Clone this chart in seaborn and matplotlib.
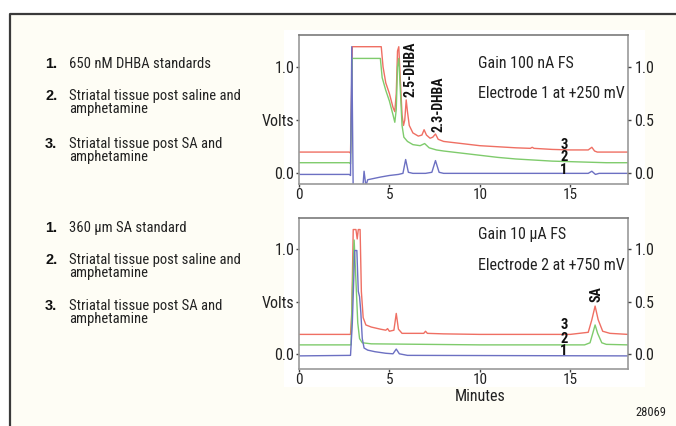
import matplotlib
matplotlib.use("Agg")
import matplotlib.pyplot as plt
import seaborn as sns
import numpy as np
from matplotlib.patches import Rectangle
from matplotlib.lines import Line2D
from matplotlib import font_manager

# ---------------- data ----------------
# Top panel (Electrode 1, +250 mV)
top_t3 = [0, 2.78, 2.85, 2.95, 4.55, 4.65, 4.8, 5.0, 5.2, 5.3, 5.38, 5.45, 5.52, 5.6, 5.7, 5.78, 5.85, 5.93, 6.0,
          6.1, 6.3, 6.6, 6.8, 6.92, 7.05, 7.25, 7.4, 7.55, 7.7, 8.0, 8.5, 9, 10, 11, 12, 12.8, 12.9, 13.0, 14, 15,
          16.0, 16.2, 16.35, 16.5, 17, 18.2]
top_v3 = [0.2, 0.2, 0.19, 1.19, 1.19, 1.0, 0.85, 0.75, 0.62, 0.58, 0.75, 1.15, 1.19, 0.9, 0.55, 0.45, 0.5, 0.69, 0.58,
          0.45, 0.38, 0.35, 0.36, 0.41, 0.36, 0.33, 0.34, 0.37, 0.32, 0.3, 0.29, 0.28, 0.26, 0.25, 0.24, 0.235, 0.245,
          0.235, 0.225, 0.22, 0.22, 0.245, 0.21, 0.2, 0.2, 0.2]
top_t2 = [0, 2.78, 2.85, 2.95, 4.5, 4.6, 4.8, 5.0, 5.2, 5.3, 5.38, 5.45, 5.52, 5.6, 5.7, 5.8, 6.0, 6.3, 6.7, 6.95,
          7.2, 7.6, 8, 9, 10, 11, 12, 13, 14, 15, 16, 17, 18.2]
top_v2 = [0.1, 0.1, 0.09, 1.08, 1.08, 0.9, 0.78, 0.68, 0.55, 0.48, 0.6, 1.0, 1.08, 0.8, 0.45, 0.34, 0.3, 0.27, 0.26,
          0.28, 0.24, 0.22, 0.21, 0.19, 0.17, 0.15, 0.135, 0.125, 0.115, 0.11, 0.105, 0.1, 0.1]
top_t1 = [0, 2.78, 2.85, 2.92, 3.0, 3.5, 3.6, 3.7, 3.8, 4.5, 5.0, 5.5, 5.75, 5.9, 6.05, 6.3, 7.0, 7.35, 7.55, 7.75,
          8.0, 10, 15, 16.0, 16.2, 16.4, 16.6, 18.2]
top_v1 = [-0.01, -0.01, -0.02, 1.19, -0.2, -0.2, 0.02, -0.12, -0.06, -0.035, -0.02, -0.01, 0.0, 0.13, 0.01, 0.0, 0.0,
          0.01, 0.12, 0.01, 0.0, 0.0, 0.0, 0.0, 0.02, -0.01, 0.0, 0.0]

# Bottom panel (Electrode 2, +750 mV)
bot_t3 = [0, 2.85, 2.92, 3.0, 3.15, 3.22, 3.28, 3.38, 3.45, 3.55, 3.7, 4.0, 4.5, 4.8, 4.9, 5.0, 5.25, 5.38, 5.5, 5.7,
          6.0, 6.9, 7.0, 7.1, 8, 10, 15, 16.0, 16.2, 16.38, 16.55, 16.8, 17.2, 18.2]
bot_v3 = [0.19, 0.19, 0.4, 1.19, 1.19, 1.1, 1.19, 1.19, 0.6, 0.35, 0.28, 0.26, 0.24, 0.23, 0.245, 0.22, 0.23, 0.39,
          0.24, 0.2, 0.2, 0.2, 0.22, 0.2, 0.195, 0.19, 0.19, 0.21, 0.33, 0.46, 0.33, 0.22, 0.2, 0.19]
bot_t2 = [0, 2.88, 2.95, 3.05, 3.15, 3.25, 3.35, 3.5, 4.0, 10, 15.8, 16.1, 16.25, 16.38, 16.52, 16.75, 17.0, 18.2]
bot_v2 = [0.09, 0.09, 0.6, 1.09, 0.7, 0.3, 0.15, 0.11, 0.1, 0.09, 0.09, 0.11, 0.2, 0.28, 0.2, 0.11, 0.095, 0.09]
bot_t1 = [0, 2.85, 2.95, 3.08, 3.2, 3.28, 3.35, 3.42, 3.5, 3.6, 3.8, 4.2, 4.8, 5.2, 5.38, 5.55, 6.0, 18.2]
bot_v1 = [-0.015, -0.01, 0.3, 0.99, 0.99, 0.6, 0.55, 0.4, 0.15, 0.06, 0.04, 0.025, 0.01, 0.005, 0.05, 0.005, -0.01,
          -0.015]

x_ticks = [0, 5, 10, 15]
y_ticks = [0.0, 0.5, 1.0]
left_tick_labels = ["0.0", "Volts", "1.0"]
right_tick_labels = ["0.0", "0.5", "1.0"]
trace_labels = ["1", "2", "3"]

top_legend = ["650 nM DHBA standards",
              "Striatal tissue post saline and\namphetamine",
              "Striatal tissue post SA and\namphetamine"]
bot_legend = ["360 µm SA standard",
              "Striatal tissue post saline and\namphetamine",
              "Striatal tissue post SA and\namphetamine"]

RED = "#ef6f63"
GREEN = "#7fcb6c"
BLUE = "#6c70c2"

# ---------------- style ----------------
sns.set_theme(style="white")

# pick a condensed sans font if one is installed
names = sorted({f.name for f in font_manager.fontManager.ttflist})
cond = None
for pref in ["Liberation Sans Narrow", "DejaVu Sans Condensed", "Roboto Condensed", "Open Sans Condensed",
             "Noto Sans Condensed"]:
    if pref in names:
        cond = pref
        break
if cond is None:
    for n in names:
        if "Narrow" in n or "Condensed" in n:
            cond = n
            break
STRETCH = "normal"
if cond is None:
    cond = "DejaVu Sans"
    STRETCH = "condensed"
FONT = [cond, "Liberation Sans", "DejaVu Sans"]
plt.rcParams["font.family"] = FONT
plt.rcParams["font.stretch"] = STRETCH

W, H = 676, 426
fig = plt.figure(figsize=(W / 100, H / 100), dpi=100)
fig.patch.set_facecolor("white")


def px(x, y):
    return x / W, 1 - y / H


# cream frame and white panel
fig.patches.append(Rectangle(px(10, 440), (W + 20) / W, (440 - 13) / H, transform=fig.transFigure,
                             facecolor="#fefdf5", edgecolor="none", zorder=-3))
fig.patches.append(Rectangle(px(284, 387), (645 - 284) / W, (387 - 30) / H, transform=fig.transFigure,
                             facecolor="white", edgecolor="none", zorder=-2))
fig.lines.append(Line2D([10 / W, 10 / W, 1.02], [-0.02, 1 - 13.5 / H, 1 - 13.5 / H], transform=fig.transFigure,
                        color="#3a3a3a", lw=1.6))


def make_axes(top, bottom, ylim):
    ax = fig.add_axes([299 / W, 1 - bottom / H, (628 - 299) / W, (bottom - top) / H])
    ax.set_facecolor("white")
    ax.set_xlim(0, 18.2)
    ax.set_ylim(*ylim)
    for s in ax.spines.values():
        s.set_color("#9a9a9a")
        s.set_linewidth(1.2)
        s.set_visible(True)
    ax.spines["top"].set_color("#7a7a7a")
    ax.set_xticks(x_ticks)
    ax.set_xticklabels([str(v) for v in x_ticks])
    ax.set_yticks(y_ticks)
    ax.set_yticklabels(left_tick_labels)
    ax.tick_params(axis="y", direction="out", length=2, width=1, color="#444444",
                   labelsize=11.5, labelcolor="#222222", pad=1.5, left=True)
    ax.tick_params(axis="x", direction="out", length=2, width=1, color="#444444",
                   labelsize=11, labelcolor="#222222", pad=1, bottom=True)
    ax.set_xlabel("")
    ax.set_ylabel("")
    axr = ax.twinx()
    axr.set_ylim(*ylim)
    axr.set_yticks(y_ticks)
    axr.set_yticklabels(right_tick_labels)
    axr.tick_params(axis="y", direction="out", length=2, width=1, color="#444444", labelsize=11.5,
                    labelcolor="#222222", pad=2.5, right=True)
    for s in axr.spines.values():
        s.set_visible(False)
    axr.grid(False)
    return ax


ax1 = make_axes(35, 184, (-0.1, 1.3))
ax2 = make_axes(218, 369, (-0.14, 1.3))

for ax, series in [(ax1, [(top_t3, top_v3, RED), (top_t2, top_v2, GREEN), (top_t1, top_v1, BLUE)]),
                   (ax2, [(bot_t3, bot_v3, RED), (bot_t2, bot_v2, GREEN), (bot_t1, bot_v1, BLUE)])]:
    for t, v, c in series:
        sns.lineplot(x=t, y=v, ax=ax, color=c, lw=1.0, estimator=None, sort=False)
    ax.set_xlabel("")
    ax.set_ylabel("")

# trace number labels
for ax, ys in [(ax1, [0.03, 0.15, 0.27]), (ax2, [0.03, 0.15, 0.28])]:
    for lab, y in zip(trace_labels, ys):
        ax.text(14.65, y, lab, ha="center", va="center", fontsize=10.5, fontweight="bold", color="#111111")

# annotations
ax1.text(9.9, 1.03, "Gain 100 nA FS", fontsize=11.5, color="#222222", va="center", ha="left")
ax1.text(9.9, 0.75, "Electrode 1 at +250 mV", fontsize=11.5, color="#222222", va="center", ha="left")
ax2.text(9.9, 1.14, "Gain 10 µA FS", fontsize=11.5, color="#222222", va="center", ha="left")
ax2.text(9.9, 0.85, "Electrode 2 at +750 mV", fontsize=11.5, color="#222222", va="center", ha="left")
ax1.text(6.17, 0.72, "2.5-DHBA", rotation=90, fontsize=10, fontweight="bold", ha="center", va="bottom",
         color="#111111")
ax1.text(7.74, 0.39, "2.3-DHBA", rotation=90, fontsize=10, fontweight="bold", ha="center", va="bottom",
         color="#111111")
ax2.text(16.45, 0.5, "SA", rotation=90, fontsize=10, fontweight="bold", ha="center", va="bottom",
         color="#111111")
ax2.text(10.0, -0.33, "Minutes", fontsize=11.5, ha="center", va="top", color="#222222")


# left legend texts
def legend_block(items, ys):
    for i, (txt, y) in enumerate(zip(items, ys)):
        fig.text(45 / W, 1 - y / H, f"{i + 1}.", fontsize=10.5, fontweight="bold", color="#111111",
                 va="top", ha="left", fontstretch="normal", family=["Liberation Sans", "DejaVu Sans"])
        fig.text(69 / W, 1 - y / H, txt, fontsize=10.5, color="#222222", va="top", ha="left", linespacing=0.95)


legend_block(top_legend, [57, 89, 137])
legend_block(bot_legend, [221, 253, 299])

fig.text(666 / W, 1 - 413 / H, "28069", fontsize=9, color="#222222", ha="right", va="center")

fig.savefig("out.png", dpi=100, facecolor=fig.get_facecolor())
